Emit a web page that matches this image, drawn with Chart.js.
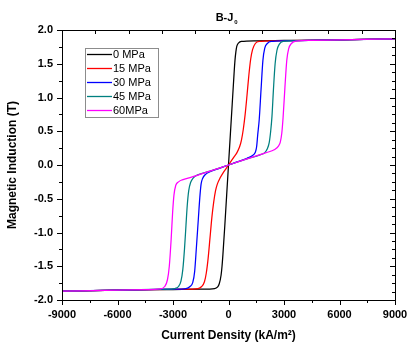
<!DOCTYPE html>
<html>
<head>
<meta charset="utf-8">
<script src="https://cdn.jsdelivr.net/npm/chart.js@4.4.1/dist/chart.umd.min.js"></script>
<style>
  html, body { margin: 0; padding: 0; background: #fff; }
  #wrap { width: 409px; height: 343px; }
</style>
</head>
<body>
<div id="wrap"><canvas id="bjChart" width="409" height="343"></canvas></div>
<script>
// stress levels (legend labels)
const labels = ['0 MPa', '15 MPa', '30 MPa', '45 MPa', '60MPa'];
const colors = ['#000000', '#ff0000', '#0000ff', '#008080', '#ff00ff'];

// current density J (kA/m^2) and induction B (T)
const j0 = [-9000, -6000, -3000, -1500, -750, -600, -500, -400, -350, -300, -200, -100, 0, 100, 200, 300, 350, 400, 450, 550, 700, 1500, 3000, 6000, 9000];
const b0 = [-1.87, -1.855, -1.845, -1.84, -1.83, -1.81, -1.76, -1.63, -1.5, -1.32, -0.9, -0.45, 0, 0.45, 0.9, 1.35, 1.55, 1.68, 1.76, 1.81, 1.83, 1.84, 1.845, 1.855, 1.87];

const j15 = [-9000, -6000, -2500, -1650, -1450, -1300, -1200, -1100, -1000, -900, -800, -700, -600, -450, -300, -150, 0, 150, 300, 450, 600, 700, 800, 900, 1000, 1100, 1200, 1300, 1450, 1650, 2500, 6000, 9000];
const b15 = [-1.87, -1.855, -1.84, -1.83, -1.8, -1.73, -1.6, -1.38, -1.08, -0.78, -0.55, -0.38, -0.28, -0.19, -0.12, -0.06, 0, 0.06, 0.12, 0.18, 0.27, 0.37, 0.53, 0.75, 1.03, 1.33, 1.57, 1.71, 1.8, 1.83, 1.84, 1.855, 1.87];

const j30 = [-9000, -6000, -3000, -2300, -2080, -1930, -1830, -1730, -1630, -1550, -1480, -1400, -1250, -1000, -500, 0, 500, 1000, 1300, 1450, 1520, 1580, 1660, 1760, 1860, 1960, 2100, 2300, 3000, 6000, 9000];
const b30 = [-1.87, -1.855, -1.84, -1.83, -1.8, -1.74, -1.58, -1.2, -0.8, -0.48, -0.28, -0.2, -0.14, -0.1, -0.05, 0, 0.05, 0.1, 0.14, 0.19, 0.27, 0.45, 0.67, 1.12, 1.55, 1.73, 1.8, 1.83, 1.84, 1.855, 1.87];

const j45 = [-9000, -6000, -3500, -2900, -2700, -2570, -2470, -2380, -2300, -2230, -2150, -2050, -1900, -1700, -1000, 0, 1000, 1700, 1950, 2100, 2200, 2280, 2350, 2430, 2520, 2620, 2750, 2950, 3500, 6000, 9000];
const b45 = [-1.87, -1.855, -1.84, -1.83, -1.8, -1.72, -1.55, -1.25, -0.9, -0.6, -0.38, -0.26, -0.19, -0.15, -0.09, 0, 0.09, 0.15, 0.18, 0.24, 0.33, 0.5, 0.72, 1.12, 1.5, 1.7, 1.79, 1.83, 1.84, 1.855, 1.87];

const j60 = [-9000, -6000, -4500, -3700, -3450, -3300, -3200, -3100, -3020, -2950, -2850, -2700, -2500, -2000, -1000, 0, 1000, 2000, 2500, 2700, 2800, 2880, 2950, 3050, 3150, 3250, 3400, 3650, 4500, 6000, 9000];
const b60 = [-1.87, -1.855, -1.845, -1.835, -1.8, -1.7, -1.5, -1.1, -0.7, -0.45, -0.3, -0.25, -0.22, -0.18, -0.09, 0, 0.09, 0.18, 0.23, 0.28, 0.34, 0.47, 0.7, 1.15, 1.55, 1.72, 1.8, 1.835, 1.845, 1.855, 1.87];

const xTicks = [-9000, -6000, -3000, 0, 3000, 6000, 9000];
const yTicks = [-2.0, -1.5, -1.0, -0.5, 0.0, 0.5, 1.0, 1.5, 2.0];

const FONT = '"Liberation Sans", Arial, sans-serif';

function toPoints(js, bs) {
    return js.map((j, i) => ({ x: j, y: bs[i] }));
}

const series = [[j0, b0], [j15, b15], [j30, b30], [j45, b45], [j60, b60]];

// axis frame, tick marks, title and in-plot legend (Origin style)
const decorations = {
    id: 'decorations',
    afterDraw(chart) {
        const { ctx, chartArea: a, scales: { x, y } } = chart;
        const px = v => Math.round(v) + 0.5;
        ctx.save();
        ctx.strokeStyle = '#000';
        ctx.lineWidth = 1;
        ctx.strokeRect(px(a.left), px(a.top), Math.round(a.right) - Math.round(a.left), Math.round(a.bottom) - Math.round(a.top));

        ctx.beginPath();
        // bottom: major every 3000, minor every 1500, outward
        for (let v = -9000; v <= 9000; v += 1500) {
            const xx = px(x.getPixelForValue(v));
            const len = v % 3000 === 0 ? 5 : 3;
            ctx.moveTo(xx, a.bottom); ctx.lineTo(xx, a.bottom + len);
        }
        // top: inward ticks
        for (let v = -9000; v <= 9000; v += 1800) {
            const xx = px(x.getPixelForValue(v));
            ctx.moveTo(xx, a.top); ctx.lineTo(xx, a.top + 4);
        }
        // left: major 0.5, minor 0.25, outward
        for (let k = -8; k <= 8; k++) {
            const yy = px(y.getPixelForValue(k * 0.25));
            const len = k % 2 === 0 ? 5 : 3;
            ctx.moveTo(a.left, yy); ctx.lineTo(a.left - len, yy);
        }
        // right: inward
        for (let k = -16; k <= 16; k++) {
            const yy = px(y.getPixelForValue(k * 0.125));
            const len = k % 4 === 0 ? 5 : 3;
            ctx.moveTo(a.right, yy); ctx.lineTo(a.right - len, yy);
        }
        ctx.stroke();

        // title B-J0
        ctx.fillStyle = '#000';
        ctx.textBaseline = 'alphabetic';
        ctx.textAlign = 'left';
        ctx.font = 'bold 11px ' + FONT;
        const t = 'B-J';
        const tw = ctx.measureText(t).width;
        const tx = (a.left + a.right) / 2 - tw / 2 - 4;
        ctx.fillText(t, tx, 21);
        ctx.font = 'bold 6px ' + FONT;
        ctx.fillText('0', tx + tw + 1, 24);

        // legend box
        const lx = 85, ly = 48, lw = 73, lh = 69;
        ctx.strokeStyle = '#8c8c8c';
        ctx.strokeRect(lx + 0.5, ly + 0.5, lw, lh);
        ctx.font = '11px ' + FONT;
        ctx.textBaseline = 'middle';
        chart.data.datasets.forEach((ds, i) => {
            const ry = ly + 6.5 + i * 14;
            ctx.strokeStyle = ds.borderColor;
            ctx.lineWidth = 1.3;
            ctx.beginPath();
            ctx.moveTo(lx + 2, ry); ctx.lineTo(lx + 27, ry);
            ctx.stroke();
            ctx.fillStyle = '#000';
            ctx.fillText(ds.label, lx + 28, ry + 0.5);
        });
        ctx.restore();
    }
};

const ctx = document.getElementById('bjChart').getContext('2d');

new Chart(ctx, {
    type: 'scatter',
    data: {
        datasets: labels.map((lab, i) => ({
            label: lab,
            data: toPoints(series[i][0], series[i][1]),
            showLine: true,
            borderColor: colors[i],
            backgroundColor: colors[i],
            borderWidth: 1.25,
            pointRadius: 0,
            cubicInterpolationMode: 'monotone',
            order: labels.length - 1 - i
        }))
    },
    options: {
        responsive: false,
        animation: false,
        devicePixelRatio: 1,
        layout: { padding: { left: 0, right: 14, top: 30, bottom: 0 } },
        plugins: {
            legend: { display: false },
            title: { display: false },
            tooltip: { enabled: false }
        },
        scales: {
            x: {
                type: 'linear',
                min: -9000,
                max: 9000,
                afterFit: s => { s.height = 43; s.paddingLeft = 0; s.paddingRight = 0; },
                afterBuildTicks: s => { s.ticks = xTicks.map(v => ({ value: v })); },
                grid: { display: false, drawTicks: false },
                border: { display: false },
                ticks: {
                    padding: 8,
                    color: '#000',
                    font: { family: FONT, size: 11, weight: 'bold' },
                    maxRotation: 0,
                    callback: v => String(v)
                },
                title: {
                    display: true,
                    text: 'Current Density (kA/m²)',
                    color: '#000',
                    padding: { top: 0, bottom: 0 },
                    font: { family: FONT, size: 12, weight: 'bold' }
                }
            },
            y: {
                type: 'linear',
                min: -2,
                max: 2,
                afterFit: s => { s.width = 62; s.paddingTop = 0; s.paddingBottom = 0; },
                afterBuildTicks: s => { s.ticks = yTicks.map(v => ({ value: v })); },
                grid: { display: false, drawTicks: false },
                border: { display: false },
                ticks: {
                    padding: 9,
                    color: '#000',
                    font: { family: FONT, size: 11, weight: 'bold' },
                    callback: v => v.toFixed(1)
                },
                title: {
                    display: true,
                    text: 'Magnetic Induction (T)',
                    color: '#000',
                    padding: { top: 5, bottom: 0 },
                    font: { family: FONT, size: 12, weight: 'bold' }
                }
            }
        }
    },
    plugins: [decorations]
});
</script>
</body>
</html>
